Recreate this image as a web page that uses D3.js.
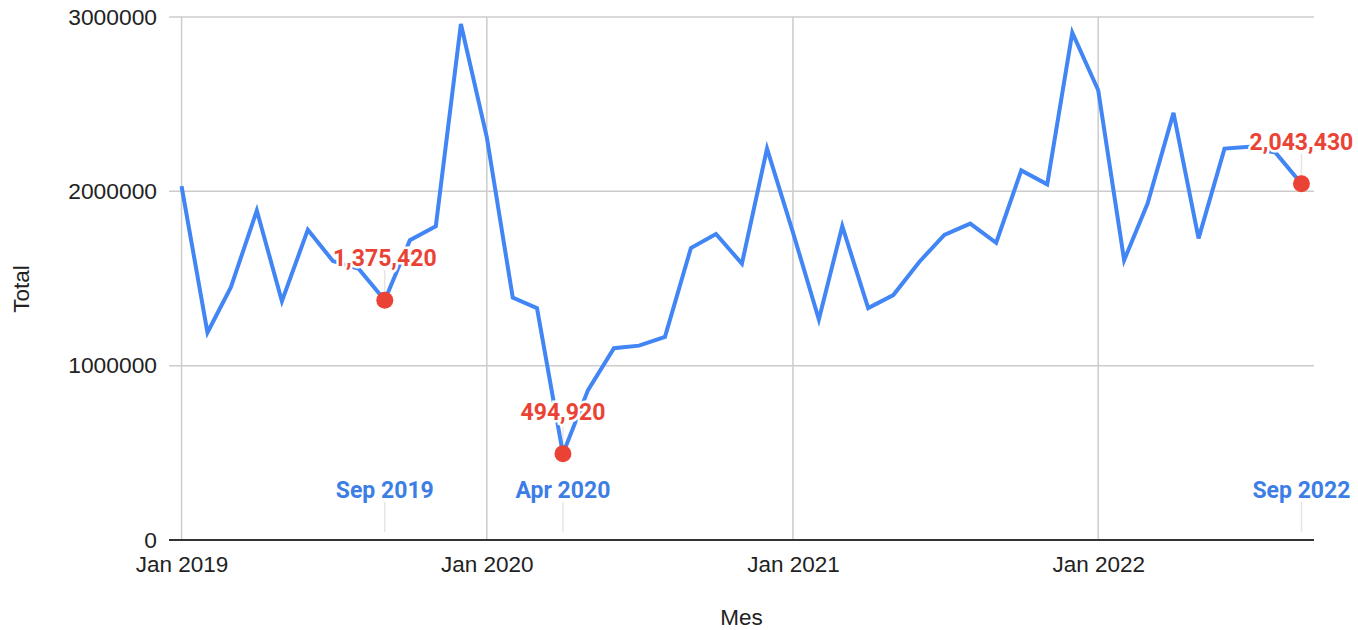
<!DOCTYPE html>
<html>
<head>
<meta charset="utf-8">
<script src="https://cdn.jsdelivr.net/npm/d3@7"></script>
<style>
  body { margin: 0; background: #fff; }
  svg { display: block; }
</style>
</head>
<body>
<svg id="chart" width="1358" height="630"></svg>
<script>
// monthly totals, Jan 2019 .. Sep 2022
var months = d3.timeMonths(new Date(2019, 0, 1), new Date(2022, 9, 1));
var totals = [
  2030000, 1190000, 1450000, 1890000, 1370000, 1780000, 1600000, 1555000, 1375420, 1720000, 1800000, 2960000,
  2310000, 1390000, 1330000, 494920, 860000, 1100000, 1115000, 1165000, 1675000, 1755000, 1585000, 2245000,
  1765000, 1265000, 1800000, 1330000, 1405000, 1595000, 1750000, 1815000, 1705000, 2120000, 2040000, 2910000,
  2580000, 1605000, 1930000, 2450000, 1730000, 2245000, 2255000, 2222000, 2043430
];
var yTicks = [0, 1000000, 2000000, 3000000];
var xTicks = [new Date(2019, 0, 1), new Date(2020, 0, 1), new Date(2021, 0, 1), new Date(2022, 0, 1)];
// highlighted points (index into months)
var marked = [8, 15, 44];

var margin = {left: 169, right: 44, top: 17, bottom: 90};
var width = 1358, height = 630;

var svg = d3.select("#chart");

var x = d3.scaleTime()
  .domain([new Date(2018, 11, 17), new Date(2022, 8, 16)])
  .range([margin.left, width - margin.right]);
var y = d3.scaleLinear()
  .domain([0, 3000000])
  .range([height - margin.bottom, margin.top]);

var data = months.map(function(m, i){ return {date: m, value: totals[i]}; });

// horizontal grid
svg.append("g").selectAll("line").data(yTicks).enter().append("line")
  .attr("x1", margin.left).attr("x2", width - margin.right)
  .attr("y1", function(d){ return y(d); }).attr("y2", function(d){ return y(d); })
  .attr("stroke", "#cccccc").attr("stroke-width", 1.5);

// vertical grid
svg.append("g").selectAll("line").data(xTicks).enter().append("line")
  .attr("x1", function(d){ return x(d); }).attr("x2", function(d){ return x(d); })
  .attr("y1", margin.top).attr("y2", y(0))
  .attr("stroke", "#cccccc").attr("stroke-width", 1.5);

// y axis labels
var yAxis = d3.axisLeft(y).tickValues(yTicks).tickSize(0).tickPadding(12).tickFormat(d3.format("d"));
var gy = svg.append("g").attr("transform", "translate(" + margin.left + ",0)").call(yAxis);
gy.select(".domain").remove();
gy.selectAll("text").attr("font-family", "Liberation Sans, Arial").attr("font-size", 22.8).attr("fill", "#222");

// x axis labels
var xAxis = d3.axisBottom(x).tickValues(xTicks).tickSize(0).tickPadding(16).tickFormat(d3.timeFormat("%b %Y"));
var gx = svg.append("g").attr("transform", "translate(0," + y(0) + ")").call(xAxis);
gx.select(".domain").remove();
gx.selectAll("text").attr("font-family", "Liberation Sans, Arial").attr("font-size", 22.5).attr("fill", "#222");

// baseline
svg.append("line")
  .attr("x1", margin.left).attr("x2", width - margin.right)
  .attr("y1", y(0)).attr("y2", y(0))
  .attr("stroke", "#333").attr("stroke-width", 2);

// axis titles
svg.append("text").attr("x", (margin.left + width - margin.right) / 2).attr("y", 625)
  .attr("text-anchor", "middle").attr("font-family", "Liberation Sans, Arial").attr("font-size", 22.5)
  .attr("fill", "#222").text("Mes");
svg.append("text").attr("transform", "translate(29,289) rotate(-90)")
  .attr("text-anchor", "middle").attr("font-family", "Liberation Sans, Arial").attr("font-size", 22.5)
  .attr("fill", "#222").text("Total");

// domain annotation ticks + labels
var ann = svg.append("g");
marked.forEach(function(i){
  var d = data[i];
  ann.append("line").attr("x1", x(d.date)).attr("x2", x(d.date))
    .attr("y1", y(0) - 38).attr("y2", y(0) - 8)
    .attr("stroke", "#e6e6e6").attr("stroke-width", 1.5);
  ann.append("text").attr("x", x(d.date)).attr("y", y(0) - 42)
    .attr("text-anchor", "middle").attr("font-family", "Roboto").attr("font-weight", "bold")
    .attr("font-size", 23).attr("fill", "#3d7ee6").text(d3.timeFormat("%b %Y")(d.date));
  ann.append("line").attr("x1", x(d.date)).attr("x2", x(d.date))
    .attr("y1", y(d.value) - 30).attr("y2", y(d.value) - 6)
    .attr("stroke", "#e6e6e6").attr("stroke-width", 1.5);
});

// the line
var line = d3.line().x(function(d){ return x(d.date); }).y(function(d){ return y(d.value); });
svg.append("path").datum(data)
  .attr("d", line).attr("fill", "none")
  .attr("stroke", "#4285f4").attr("stroke-width", 4).attr("stroke-linejoin", "miter");

// red points + value labels
marked.forEach(function(i){
  var d = data[i];
  svg.append("circle").attr("cx", x(d.date)).attr("cy", y(d.value)).attr("r", 8.5).attr("fill", "#ea4335");
  svg.append("text").attr("x", x(d.date)).attr("y", y(d.value) - 34)
    .attr("text-anchor", "middle").attr("font-family", "Roboto").attr("font-weight", "bold")
    .attr("font-size", 23).attr("fill", "#ea4335")
    .attr("stroke", "#fff").attr("stroke-width", 5).attr("paint-order", "stroke")
    .text(d3.format(",")(d.value));
});
</script>
</body>
</html>
